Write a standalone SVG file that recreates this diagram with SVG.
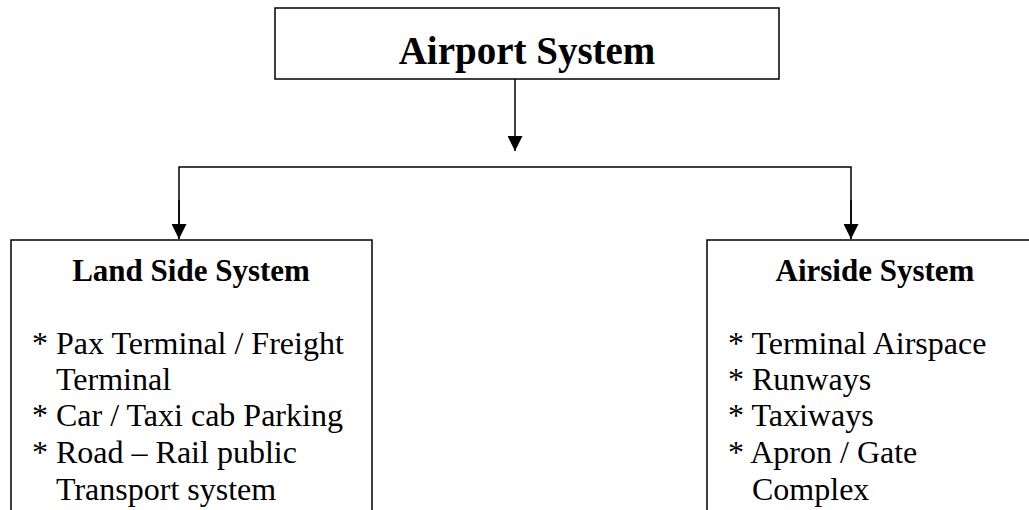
<svg xmlns="http://www.w3.org/2000/svg" width="1029" height="510" viewBox="0 0 1029 510">
<style>
.box{fill:#fff;stroke:#000;stroke-width:1.5}
.ln{fill:none;stroke:#000;stroke-width:1.5}
.t{font-family:"Liberation Serif","Times New Roman",serif;fill:#000}
.h{font-weight:bold;font-size:31px;text-anchor:middle}
.i{font-size:32px}
.top{font-weight:bold;font-size:39px;text-anchor:middle}
</style>
<defs>
<marker id="ah" viewBox="0 0 10 10" refX="10" refY="5" markerWidth="15" markerHeight="15" markerUnits="userSpaceOnUse" orient="auto">
<path d="M0,0 L10,5 L0,10 z" fill="#000"/>
</marker>
</defs>
<rect width="1029" height="510" fill="#fff"/>
<g id="connectors">
<line class="ln" x1="515" y1="79" x2="515" y2="151" marker-end="url(#ah)"/>
<polyline class="ln" points="179,239 179,167 851,167 851,239" fill="none"/>
<line class="ln" x1="179" y1="200" x2="179" y2="239" marker-end="url(#ah)"/>
<line class="ln" x1="851" y1="200" x2="851" y2="239" marker-end="url(#ah)"/>
</g>
<g id="airport">
<rect class="box" x="275" y="8" width="504" height="71"/>
<text class="t top" x="527" y="64">Airport System</text>
</g>
<g id="landside">
<rect class="box" x="11" y="240" width="361" height="280"/>
<text class="t h" x="191" y="281">Land Side System</text>
<text class="t i" x="32" y="354">* Pax Terminal / Freight</text>
<text class="t i" x="56" y="390">Terminal</text>
<text class="t i" x="32" y="426">* Car / Taxi cab Parking</text>
<text class="t i" x="32" y="463">* Road – Rail public</text>
<text class="t i" x="56" y="500">Transport system</text>
</g>
<g id="airside">
<rect class="box" x="707" y="240" width="340" height="280"/>
<text class="t h" x="875" y="281">Airside System</text>
<text class="t i" x="728" y="354">* Terminal Airspace</text>
<text class="t i" x="728" y="390">* Runways</text>
<text class="t i" x="728" y="426">* Taxiways</text>
<text class="t i" x="728" y="463">* Apron / Gate</text>
<text class="t i" x="752" y="500">Complex</text>
</g>
</svg>
